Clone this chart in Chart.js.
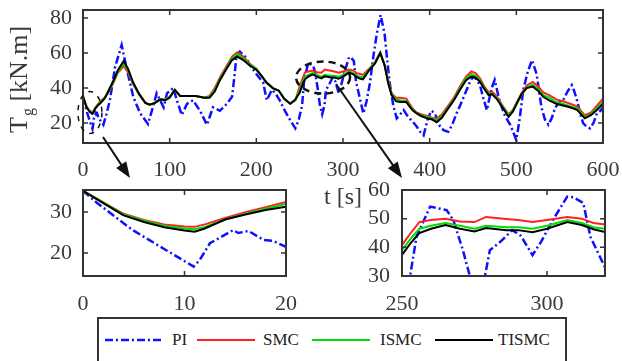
<!DOCTYPE html>
<html>
<head>
<meta charset="utf-8">
<script src="https://cdn.jsdelivr.net/npm/chart.js@4.4.1/dist/chart.umd.min.js"></script>
<style>
  body { margin: 0; background: #fff; }
  #wrap { position: relative; width: 622px; height: 361px; overflow: hidden; font-family: "Liberation Serif", "Times New Roman", serif; }
  canvas { position: absolute; }
  #legend { position: absolute; left: 97px; top: 317px; width: 466px; height: 60px; border: 2px solid #333; background: #fff; }
  .item { position: absolute; font-size: 17px; color: #222; line-height: 20px; }
</style>
</head>
<body>
<div id="wrap">
  <canvas id="mainChart" width="622" height="212" style="left:0;top:0"></canvas>
  <canvas id="zoomA" width="300" height="140" style="left:0;top:180px"></canvas>
  <canvas id="zoomB" width="312" height="140" style="left:310px;top:180px"></canvas>
  <div id="legend"></div>
</div>
<script>
// -----------------------------
// Data
// -----------------------------
const seriesNames = ["PI", "SMC", "ISMC", "TISMC"];
const seriesColors = ["#1010ff", "#ff2020", "#00dd00", "#000000"];

// PI (dash-dot) has its own time samples
const piTime = [
  0, 1.4, 4.9, 8.2, 10.9, 11.5, 12.5, 14.8, 15.3, 16.3,
  17.8, 18.7, 20, 23.5, 27, 31, 37, 44.6, 50, 58,
  66, 75, 80, 85, 89, 93, 97, 104, 109, 114,
  120, 127, 135, 143, 150, 158, 166, 172, 175, 177,
  181, 187, 193, 200, 208, 212, 218, 222, 227, 233,
  239, 245, 249, 252.8, 255, 259.7, 265.4, 267.7, 271, 273.4,
  276, 278.6, 280.3, 284, 288, 291, 295, 298, 302, 307,
  309, 312.5, 315, 320, 323.4, 327, 331, 335, 339, 343.4,
  348, 351, 354, 358, 362, 366, 370, 375, 380, 385,
  389, 393, 398, 402, 406, 412, 416, 421.5, 426, 431,
  436, 441, 446, 450, 454, 458, 462, 466, 471.5, 475,
  481, 487, 493, 497, 500, 504, 508, 513, 518, 523.4,
  529, 533, 537, 541, 545, 550, 554, 559, 564, 567,
  570, 574, 577, 581, 585, 589, 593, 597, 600
];
const piValues = [
  35.2, 32.2, 25.6, 20.7, 16.7, 18.3, 22.4, 25.6, 24.9, 25.4,
  23.2, 23, 21.5, 19, 25, 33, 52, 64.6, 52, 35,
  25.5, 19.5, 28, 37, 33, 29, 37, 40, 32, 24.6,
  31, 33, 27, 19, 29, 27, 31, 35, 48, 58,
  60.8, 58, 53, 48, 43, 33, 39, 37, 33, 27,
  21.7, 17, 22, 30, 43.7, 54.2, 53, 49.5, 39, 30,
  25, 30, 39, 42, 46, 44, 37.3, 42, 49.5, 57.7,
  57.5, 55.5, 43.6, 33, 25.5, 32, 42.7, 58, 71, 81.7,
  71, 56, 42.7, 30, 22.7, 25, 27.4, 23.6, 21, 18,
  15, 13, 22.7, 27, 25.5, 18, 16, 15, 19, 25.5,
  31, 37, 43, 46.5, 45, 41.7, 34, 27.4, 40, 44.6,
  32, 24, 19, 14, 10.3, 23, 39, 49, 56, 48,
  29, 22, 19, 23, 29, 32, 33, 38, 41.7, 38,
  33, 25, 20, 18, 17, 20, 25.5, 27, 29
];

// SMC / ISMC / TISMC share one set of time samples
const trackTime = [
  0, 2, 4, 6, 8, 10, 11, 12, 14, 16,
  18, 20, 25, 30, 35, 40, 47, 52, 58, 65,
  72, 77, 83, 89, 95, 100, 106, 112, 120, 130,
  140, 146, 152, 158, 165, 172, 178, 185, 192, 200,
  206, 212, 219, 226, 232, 239, 245, 250, 253, 256,
  260, 265, 270, 275, 279, 286, 290, 295, 300, 307,
  312, 316, 320, 323, 330, 337, 343, 348, 352, 356,
  361, 366, 373, 380, 385, 390, 397, 403, 408, 414,
  420, 428, 435, 442, 448, 453, 458, 463, 468, 472,
  477, 484, 491, 496, 500, 506, 512, 519, 525, 531,
  538, 546, 554, 562, 570, 579, 586, 593, 600
];
const smcValues = [
  35.2, 32.4, 29.6, 28.1, 27.0, 26.5, 26.4, 27.0, 28.6, 30.0,
  31.2, 32.5, 34.5, 38, 43, 48.5, 52.5, 49, 42, 36,
  31.5, 30.5, 31.5, 33.5, 33.5, 35, 39, 35.5, 35.5, 35.5,
  34.5, 35.5, 40, 46, 52, 58, 60.5, 58, 54, 51,
  47, 43, 40, 38.5, 34, 31, 33, 40.8, 45, 48.8,
  49.5, 50, 49, 48.8, 50.6, 49.9, 49.5, 48.8, 49.5, 50.6,
  50, 48.5, 48, 47.5, 51, 55, 60.5, 53.5, 45, 37,
  34.5, 34.5, 34, 28.5, 26, 25, 24, 23, 22.5, 25,
  29, 34.5, 41, 46.5, 49.5, 48.5, 45.5, 41, 37.5, 38,
  35.5, 30, 25, 27.5, 31.5, 37, 41.5, 43.5, 41, 37.5,
  36, 33.5, 32.5, 31, 29.5, 24.5, 26, 30, 34
];
const ismcValues = [
  35.2, 32.3, 29.4, 27.9, 26.7, 26.0, 25.8, 26.4, 28.2, 29.6,
  30.8, 32.0, 34.2, 38.5, 43.5, 49, 54, 50, 42.5, 36,
  31.5, 30.5, 31.5, 33.5, 33.5, 35, 39, 35.5, 35.5, 35.5,
  34.5, 35, 39, 45, 51, 57, 59.5, 57, 53.5, 51,
  47, 43, 40, 38.5, 34, 31, 33, 39, 43, 46.5,
  47.5, 48.5, 47.5, 46.5, 47.5, 47, 47, 46.5, 47.5, 49.5,
  48.5, 47, 46.5, 46, 50.5, 54.5, 60.2, 53, 44, 36.5,
  33.5, 33, 32.5, 28, 25.5, 24.5, 23.5, 22.5, 21.5, 24,
  28, 33.5, 40, 45.5, 48, 47, 44.5, 40, 36.5, 37,
  34.5, 29.5, 24.5, 27, 31, 36, 40.5, 42, 39.5, 36,
  34.5, 32, 31, 29.5, 28.5, 23.5, 25, 28.5, 32
];
const tismcValues = [
  35.2, 32.2, 29.2, 27.6, 26.3, 25.5, 25.2, 26.0, 28.2, 29.4,
  30.5, 31.3, 34, 39, 44, 50, 55.5, 51, 43, 36.5,
  31.5, 30.5, 31.5, 33.5, 33, 34.5, 39, 35.5, 35.5, 35.5,
  34.5, 34.5, 38, 44.5, 50.5, 56, 58, 56, 53, 50.5,
  47, 43, 40, 38.5, 34, 31, 33.5, 37.3, 41.5, 45,
  46.5, 47.8, 46.5, 45.5, 46.7, 46, 46, 45.3, 46.5, 48.8,
  47.8, 46.3, 45.3, 45, 50, 54, 60, 53, 43, 36,
  32.5, 32, 32, 27.5, 25.5, 24, 22.7, 22, 20.5, 23,
  27.4, 33, 39, 44.5, 46.5, 46, 43.6, 39.5, 36, 36.5,
  34, 29, 23.6, 26.5, 30.5, 36.5, 40, 40.8, 38.5, 35,
  33, 31, 30, 29, 27.5, 22.7, 24.5, 27.4, 31
];

// Axis ticks
const mainXTicks = [0, 100, 200, 300, 400, 500, 600];
const mainYTicks = [20, 40, 60, 80];
const zoomAXTicks = [0, 10, 20];
const zoomAYTicks = [20, 30];
const zoomBXTicks = [250, 300];
const zoomBYTicks = [30, 40, 50, 60];

Chart.defaults.font.family = '"Liberation Serif", "Times New Roman", serif';
Chart.defaults.color = "#3a3a3a";

// -----------------------------
// Helpers
// -----------------------------
function toPoints(time, vals) {
    return time.map((t, i) => ({ x: t, y: vals[i] }));
}

function buildDatasets() {
    const sets = [
        toPoints(piTime, piValues),
        toPoints(trackTime, smcValues),
        toPoints(trackTime, ismcValues),
        toPoints(trackTime, tismcValues)
    ];
    return sets.map((data, i) => ({
        label: seriesNames[i],
        data: data,
        borderColor: seriesColors[i],
        borderWidth: i === 0 ? 2.5 : 2,
        borderDash: i === 0 ? [8, 3, 2, 3] : [],
        pointRadius: 0,
        tension: 0,
        order: 4 - i // TISMC on top
    }));
}

// MATLAB-like frame with inward ticks
const boxPlugin = {
    id: "box",
    afterDraw(chart) {
        const { ctx, chartArea: a, scales: { x, y } } = chart;
        ctx.save();
        ctx.strokeStyle = "#333";
        ctx.lineWidth = 1.5;
        ctx.beginPath();
        x.ticks.forEach(t => {
            const px = x.getPixelForValue(t.value);
            ctx.moveTo(px, a.bottom); ctx.lineTo(px, a.bottom - 5);
            ctx.moveTo(px, a.top); ctx.lineTo(px, a.top + 5);
        });
        y.ticks.forEach(t => {
            const py = y.getPixelForValue(t.value);
            ctx.moveTo(a.left, py); ctx.lineTo(a.left + 5, py);
            ctx.moveTo(a.right, py); ctx.lineTo(a.right - 5, py);
        });
        ctx.stroke();
        ctx.lineWidth = 2;
        ctx.strokeRect(a.left, a.top, a.width, a.height);
        ctx.restore();
    }
};

function drawArrow(ctx, x1, y1, x2, y2) {
    const ang = Math.atan2(y2 - y1, x2 - x1);
    const c = Math.cos(ang), s = Math.sin(ang);
    ctx.beginPath();
    ctx.moveTo(x1, y1);
    ctx.lineTo(x2 - 10 * c, y2 - 10 * s);
    ctx.stroke();
    ctx.beginPath();
    ctx.moveTo(x2, y2);
    ctx.lineTo(x2 - 16 * c + 6 * s, y2 - 16 * s - 6 * c);
    ctx.lineTo(x2 - 16 * c - 6 * s, y2 - 16 * s + 6 * c);
    ctx.closePath();
    ctx.fill();
}

// y title with subscript, zoom ellipses and arrows
const mainDecor = {
    id: "mainDecor",
    afterDraw(chart) {
        const { ctx, scales: { x, y } } = chart;
        ctx.save();
        // y-axis title T_g [kN.m]
        ctx.translate(20, 133);
        ctx.rotate(-Math.PI / 2);
        ctx.fillStyle = "#3a3a3a";
        ctx.textBaseline = "middle";
        ctx.font = '26px "Liberation Serif"';
        ctx.fillText("T", 0, 0);
        let w = ctx.measureText("T").width;
        ctx.font = '16px "Liberation Serif"';
        ctx.fillText("g", w + 1, 9);
        w += ctx.measureText("g").width + 1;
        ctx.font = '26px "Liberation Serif"';
        ctx.fillText(" [kN.m]", w, 0);
        ctx.restore();

        ctx.save();
        ctx.strokeStyle = "#111";
        ctx.fillStyle = "#111";
        ctx.lineWidth = 2.5;
        ctx.setLineDash([7, 5]);
        ctx.beginPath();
        ctx.ellipse(x.getPixelForValue(277), y.getPixelForValue(46), 27, 16, 0, 0, Math.PI * 2);
        ctx.stroke();
        ctx.lineWidth = 1.5;
        ctx.setLineDash([5, 6]);
        ctx.beginPath();
        ctx.ellipse(x.getPixelForValue(8), y.getPixelForValue(26), 12, 21, 0, 0, Math.PI * 2);
        ctx.stroke();
        ctx.setLineDash([]);
        ctx.lineWidth = 2;
        drawArrow(ctx, 103, 137, 130, 178);
        drawArrow(ctx, 336, 84, 402, 178);
        ctx.restore();
    }
};

function makeChart(id, cfg) {
    return new Chart(document.getElementById(id), {
        type: "line",
        data: { datasets: buildDatasets() },
        options: {
            responsive: false,
            animation: false,
            events: [],
            layout: { padding: cfg.padding },
            plugins: { legend: { display: false }, tooltip: { enabled: false } },
            scales: {
                x: {
                    type: "linear",
                    min: cfg.xMin, max: cfg.xMax,
                    grid: { display: false, drawTicks: false },
                    border: { display: false },
                    afterBuildTicks: s => { s.ticks = cfg.xTicks.map(v => ({ value: v })); },
                    afterFit: s => {
                        s.height = cfg.xHeight;
                        s.paddingLeft = 0; s.paddingRight = 0;
                    },
                    ticks: { padding: cfg.xPad, maxRotation: 0, autoSkip: false, font: { size: 22 } },
                    title: cfg.xTitle
                        ? { display: true, text: cfg.xTitle, font: { size: 24 }, padding: 0 }
                        : { display: false }
                },
                y: {
                    min: cfg.yMin, max: cfg.yMax,
                    grid: { display: false, drawTicks: false },
                    border: { display: false },
                    afterBuildTicks: s => { s.ticks = cfg.yTicks.map(v => ({ value: v })); },
                    afterFit: s => {
                        s.width = cfg.yWidth;
                        s.paddingTop = 0; s.paddingBottom = 0;
                    },
                    ticks: { padding: cfg.yPad, autoSkip: false, font: { size: 22 } }
                }
            }
        },
        plugins: cfg.plugins
    });
}

// -----------------------------
// Charts
// -----------------------------
const mainChart = makeChart("mainChart", {
    xMin: 0, xMax: 600, yMin: 8.6, yMax: 84.6,
    xTicks: mainXTicks, yTicks: mainYTicks,
    padding: { top: 10, right: 19, left: 0, bottom: 0 },
    yWidth: 83, xHeight: 69, xPad: 14, yPad: 11,
    xTitle: "t [s]",
    plugins: [boxPlugin, mainDecor]
});

const zoomA = makeChart("zoomA", {
    xMin: 0, xMax: 20, yMin: 14.4, yMax: 35.4,
    xTicks: zoomAXTicks, yTicks: zoomAYTicks,
    padding: { top: 10, right: 14, left: 0, bottom: 0 },
    yWidth: 83, xHeight: 44, xPad: 15, yPad: 11,
    plugins: [boxPlugin]
});

const zoomB = makeChart("zoomB", {
    xMin: 250, xMax: 320, yMin: 30, yMax: 60,
    xTicks: zoomBXTicks, yTicks: zoomBYTicks,
    padding: { top: 10, right: 17, left: 0, bottom: 0 },
    yWidth: 92, xHeight: 44, xPad: 15, yPad: 12,
    plugins: [boxPlugin]
});

// -----------------------------
// Legend (HTML)
// -----------------------------
const legendPos = [[6, 73], [98, 164], [213, 281], [336, 399]];
const legend = document.getElementById("legend");
seriesNames.forEach((name, i) => {
    const [lx, tx] = legendPos[i];
    const dash = i === 0 ? 'stroke-dasharray="8,3,2,3"' : "";
    const sw = i === 0 ? 2.5 : 2;
    legend.insertAdjacentHTML("beforeend",
        `<svg class="item" style="left:${lx}px;top:11px" width="60" height="20">` +
        `<line x1="0" y1="10" x2="58" y2="10" stroke="${seriesColors[i]}" stroke-width="${sw}" ${dash}/></svg>` +
        `<span class="item" style="left:${tx}px;top:11px">${name}</span>`);
});
</script>
</body>
</html>
